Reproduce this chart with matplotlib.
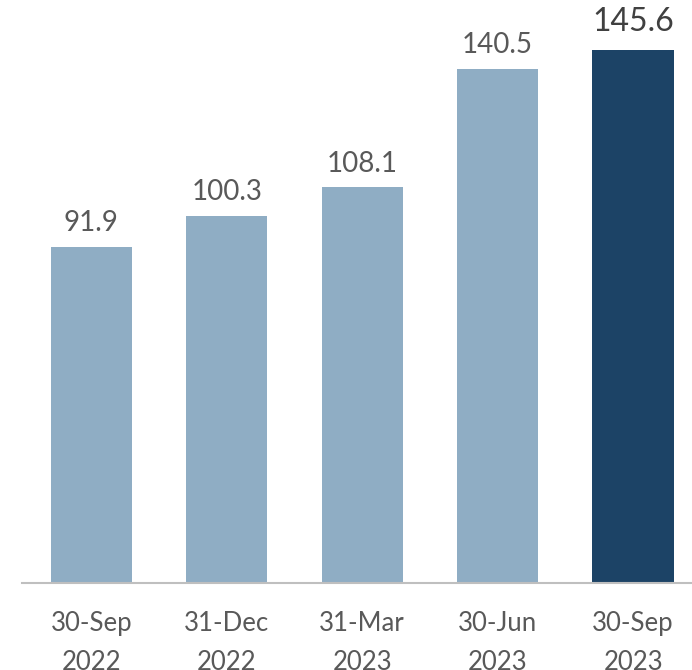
import matplotlib.pyplot as plt

plt.rcParams['font.family'] = ['Lato', 'DejaVu Sans']

# Quarter-end values
periods = ['30-Sep\n2022', '31-Dec\n2022', '31-Mar\n2023', '30-Jun\n2023', '30-Sep\n2023']
values = [91.9, 100.3, 108.1, 140.5, 145.6]

light = '#8FADC4'
dark = '#1C4366'
colors = [light] * (len(values) - 1) + [dark]

fig = plt.figure(figsize=(6.92, 6.70), dpi=100)
ax = fig.add_axes([0.032, 0.13, 0.968, 0.87])

x = range(len(values))
bars = ax.bar(x, values, width=0.6, color=colors, zorder=2)

# value labels, latest quarter emphasised
for i, (b, v) in enumerate(zip(bars, values)):
    last = i == len(values) - 1
    ax.annotate(f'{v:.1f}', (b.get_x() + b.get_width() / 2, v),
                xytext=(0, 9 if last else 7.5), textcoords='offset points',
                ha='center', va='bottom',
                fontsize=23 if last else 20,
                color='#404040' if last else '#595959')

ax.set_xlim(-0.51, 4.435)
ax.set_ylim(0, 159.25)
ax.set_xticks(list(x))
ax.set_xticklabels(periods, fontsize=18.5, color='#595959', linespacing=1.7)
ax.tick_params(axis='x', length=0, pad=20)
ax.set_yticks([])

for side in ['top', 'right', 'left']:
    ax.spines[side].set_visible(False)
ax.spines['bottom'].set_color('#BFBFBF')
ax.spines['bottom'].set_linewidth(1.5)

plt.savefig('out.png', dpi=100)
